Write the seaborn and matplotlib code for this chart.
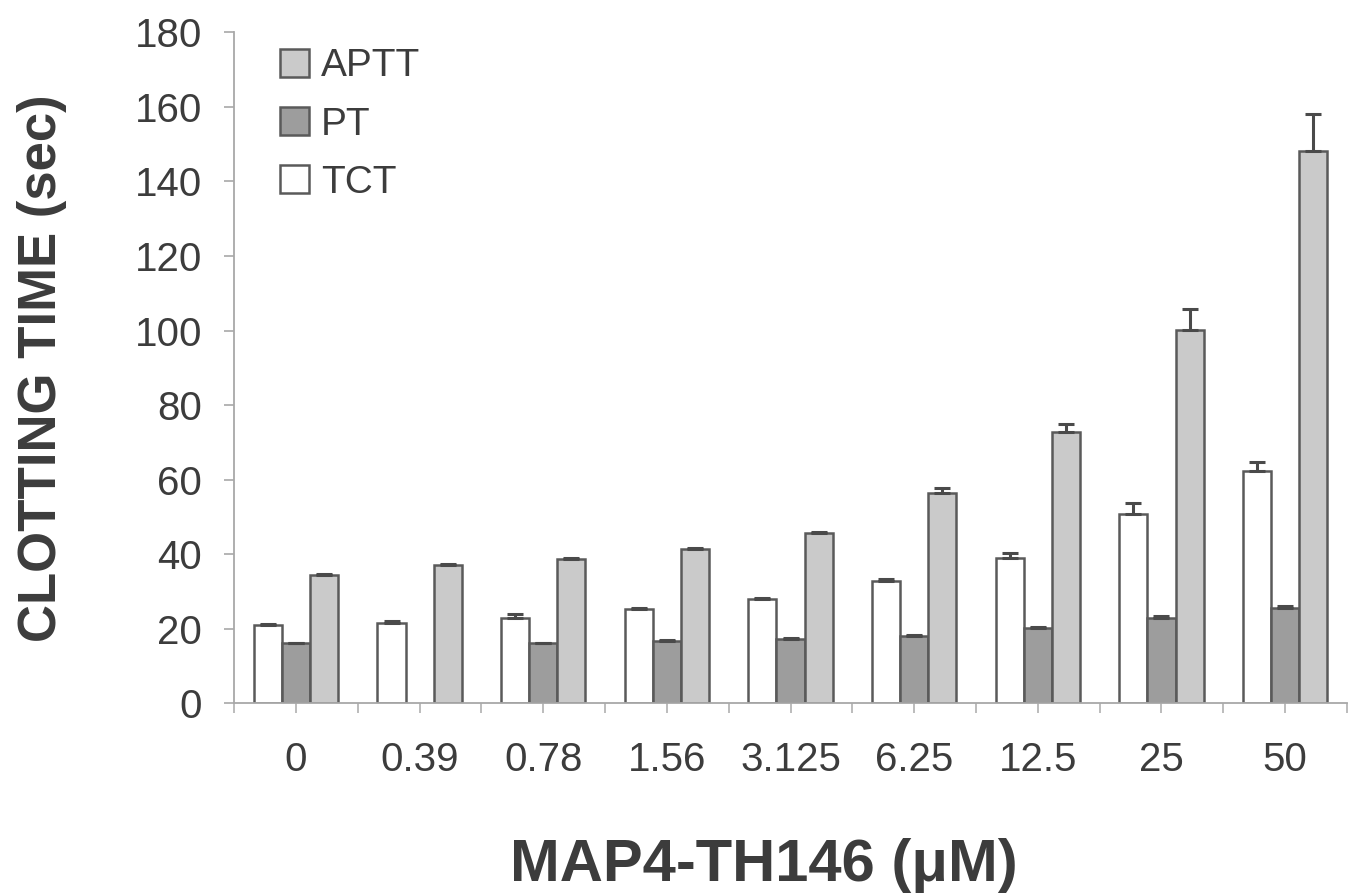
import numpy as np
import pandas as pd
import matplotlib
matplotlib.use("Agg")
import matplotlib.pyplot as plt
import seaborn as sns

# concentrations of MAP4-TH146 (uM)
doses = ["0", "0.39", "0.78", "1.56", "3.125", "6.25", "12.5", "25", "50"]

# clotting times (sec), mean and SD
tct = [21.0, 21.5, 22.8, 25.2, 27.9, 32.9, 39.0, 50.7, 62.3]
tct_sd = [0.3, 0.5, 1.3, 0.4, 0.4, 0.4, 1.2, 3.1, 2.5]
pt = [16.1, np.nan, 16.1, 16.8, 17.3, 18.1, 20.2, 22.9, 25.7]
pt_sd = [0.2, 0.0, 0.2, 0.2, 0.3, 0.3, 0.4, 0.5, 0.5]
aptt = [34.5, 37.1, 38.7, 41.3, 45.7, 56.5, 72.8, 100.1, 148.2]
aptt_sd = [0.2, 0.2, 0.4, 0.4, 0.3, 1.3, 2.0, 5.8, 9.8]

tests = ["TCT", "PT", "APTT"]
fills = {"TCT": "#ffffff", "PT": "#9d9d9d", "APTT": "#cacaca"}

df = pd.DataFrame({
    "dose": doses * 3,
    "test": [t for t in tests for _ in doses],
    "time": tct + pt + aptt,
    "sd": tct_sd + pt_sd + aptt_sd,
})

sns.set_theme(style="white")
plt.rcParams["font.family"] = ["Liberation Sans", "DejaVu Sans"]
txt = "#3c3c3c"

fig = plt.figure(figsize=(13.49, 8.96), dpi=100)
ax = fig.add_axes([0.1735, 0.215, 0.825, 0.749])

sns.barplot(data=df, x="dose", y="time", hue="test", order=doses,
            hue_order=tests, palette=fills, width=0.68, gap=0,
            edgecolor="#5a5a5a", linewidth=1.8, errorbar=None, ax=ax,
            legend=True)

# upward error bars on each bar (seaborn drops the NaN bar, so match by x)
for cont, t in zip(ax.containers, tests):
    sub = df[df["test"] == t].set_index("dose")
    for b in cont:
        xc = b.get_x() + b.get_width() / 2
        d = doses[int(round(xc))]
        ax.errorbar([xc], [sub.loc[d, "time"]],
                    yerr=[[0], [sub.loc[d, "sd"]]],
                    fmt="none", ecolor="#4a4a4a", elinewidth=2.2,
                    capsize=6, capthick=2.2, zorder=3)

ax.set_xlim(-0.5, len(doses) - 0.5)
ax.set_ylim(0, 180)
ax.set_yticks(range(0, 181, 20))
ax.set_xticks(np.arange(-0.5, len(doses), 1.0), minor=True)

for s in ["top", "right"]:
    ax.spines[s].set_visible(False)
for s in ["left", "bottom"]:
    ax.spines[s].set_color("#a8a8a8")
    ax.spines[s].set_linewidth(1.3)

ax.tick_params(axis="y", which="major", direction="out", length=7, width=1.2,
               color="#a8a8a8", labelsize=29, labelcolor=txt, pad=16, left=True)
ax.tick_params(axis="x", which="both", direction="out", length=7, width=1.2,
               color="#b0b0b0", labelsize=29, labelcolor=txt, pad=20,
               bottom=True)

ax.set_xlabel("MAP4-TH146 (\u03bcM)", fontsize=43, fontweight="bold",
              color=txt)
ax.xaxis.set_label_coords(0.476, -0.2)
ax.set_ylabel("CLOTTING TIME (sec)", fontsize=38, fontweight="bold",
              color=txt)
ax.yaxis.set_label_coords(-0.15, 0.5)

handles, labels = ax.get_legend_handles_labels()
order = [labels.index(t) for t in ["APTT", "PT", "TCT"]]
ax.legend([handles[i] for i in order], [labels[i] for i in order],
          loc="upper left", bbox_to_anchor=(0.01, 1.028), frameon=False,
          fontsize=28, handlelength=0.75, handleheight=0.75,
          handletextpad=0.3, labelspacing=0.57, labelcolor=txt)

fig.savefig("out.png", dpi=100, facecolor="white")
